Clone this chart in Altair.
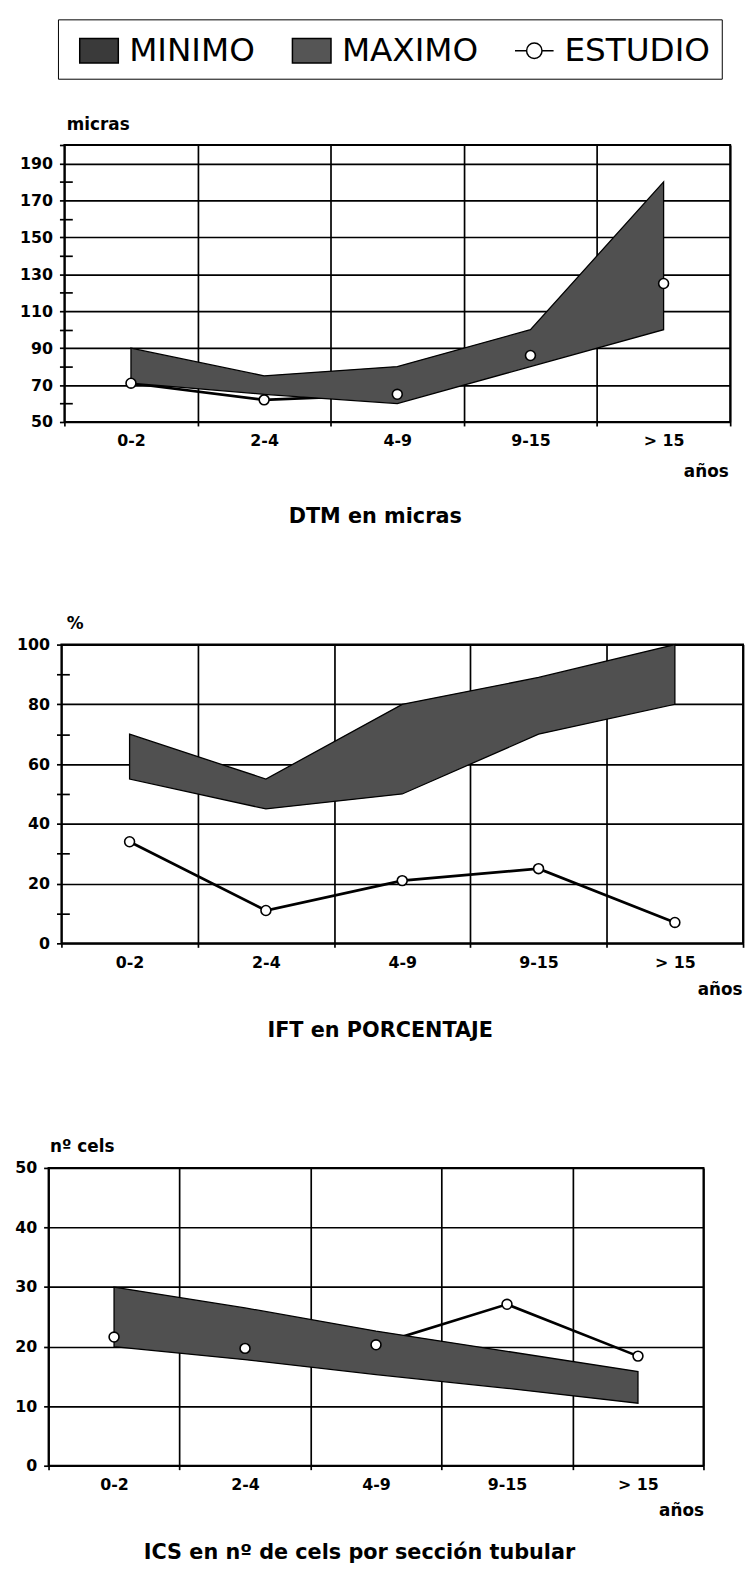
import altair as alt
import pandas as pd

cats = ["0-2", "2-4", "4-9", "9-15", "> 15"]

dtm_min = [71, 65, 60, 80, 100]
dtm_max = [90, 75, 80, 100, 180]
dtm_est = [71, 62, 65, 86, 125]

ift_min = [55, 45, 50, 70, 80]
ift_max = [70, 55, 80, 89, 100]
ift_est = [34, 11, 21, 25, 7]

ics_min = [20, 17.8, 15.3, 13, 10.5]
ics_max = [30, 26.5, 22.6, 19.2, 15.8]
ics_est = [21.6, 19.7, 20.3, 27.1, 18.4]

legend_labels = ["MINIMO", "MAXIMO", "ESTUDIO"]
legend_fills = ["#3a3a3a", "#555555", "white"]
legend_strokes = ["black", "black", "black"]
RECT = "M-1,-0.64L1,-0.64L1,0.64L-1,0.64Z"
EST = "M-1,0L-0.4,0M0.4,0L1,0M-0.4,0A0.4,0.4,0,1,1,0.4,0A0.4,0.4,0,1,1,-0.4,0Z"
legend_shapes = [RECT, RECT, EST]

BAND = "#505050"
FONT = "DejaVu Sans"


def frame(lo, hi, est):
    return pd.DataFrame({"cat": cats, "lo": lo, "hi": hi, "est": est})


def panel(df, W, H, ydom, left_vals, label_test, grid_test, inner_vals,
          ytitle, ytx, yty, xtx, xty, title, toff, legend=False):
    xaxis = alt.Axis(
        title="años", titleX=xtx, titleY=xty, titleAlign="right",
        titleBaseline="alphabetic", titleAngle=0,
        tickBand="extent", grid=True, gridColor="black", gridWidth=1.7,
        domain=False, ticks=True, tickSize=4, tickColor="black", tickWidth=1.7,
        labelPadding=7, labelAngle=0, labelFontSize=16,
    )
    x = alt.X("cat:N", sort=cats, bandPosition=0.5,
              scale=alt.Scale(type="band", domain=cats, paddingInner=0, paddingOuter=0),
              axis=xaxis)
    ys = alt.Scale(domain=ydom, nice=False, zero=False)
    left_axis = alt.Axis(
        values=left_vals,
        labelExpr=f"({label_test}) ? datum.label : ''",
        grid=True, gridColor="black", gridWidth=1.7,
        gridOpacity={"condition": {"test": grid_test, "value": 1}, "value": 0},
        domain=False, ticks=True, tickSize=5, tickColor="black", tickWidth=1.7,
        labelPadding=7, labelFontSize=16, labelOverlap=False,
        title=ytitle, titleAngle=0, titleX=ytx, titleY=yty,
        titleAlign="left", titleBaseline="alphabetic",
    )
    if inner_vals:
        inner_axis = alt.Axis(
            orient="right", offset=-W, values=inner_vals, labels=False,
            grid=False, domain=False, ticks=True, tickSize=8,
            tickColor="black", tickWidth=1.7, title=None,
        )
    else:
        inner_axis = None

    line = alt.Chart(df).mark_line(color="black", strokeWidth=2.7).encode(
        x=x, y=alt.Y("est:Q", scale=ys, axis=inner_axis)
    )
    area = alt.Chart(df).mark_area(fill=BAND, stroke="black", strokeWidth=1.3, opacity=1).encode(
        x=x, y=alt.Y("hi:Q", scale=ys, axis=left_axis), y2="lo:Q"
    )
    pts = alt.Chart(df).mark_point(filled=True, fill="white", stroke="black",
                                   strokeWidth=1.6, size=100, opacity=1).encode(
        x=x, y=alt.Y("est:Q", scale=ys, axis=None)
    )
    layers = [line, area, pts]
    if legend:
        leg = alt.Legend(
            title=None, orient="none", legendX=9.5, legendY=-127,
            direction="horizontal", strokeColor="black", padding=11,
            columnPadding=26, symbolOffset=10, labelFont=FONT, labelFontSize=33,
            labelFontWeight="normal", labelColor="black", labelOffset=10,
            symbolSize=1521, symbolStrokeColor="black", symbolStrokeWidth=1.5,
            symbolOpacity=1, labelBaseline="middle",
        )
        ldf = pd.DataFrame({"serie": legend_labels})
        lg = alt.Chart(ldf).mark_point(filled=True, strokeWidth=1.5).encode(
            fill=alt.Fill("serie:N", sort=legend_labels,
                          scale=alt.Scale(domain=legend_labels, range=legend_fills), legend=leg),
            shape=alt.Shape("serie:N", sort=legend_labels,
                            scale=alt.Scale(domain=legend_labels, range=legend_shapes), legend=leg),
            stroke=alt.Stroke("serie:N", sort=legend_labels,
                              scale=alt.Scale(domain=legend_labels, range=legend_strokes), legend=leg),
        ).transform_filter("datum.serie == 'ninguno'")
        layers.append(lg)
    ch = alt.layer(*layers).properties(
        width=W, height=H,
        title=alt.TitleParams(text=title, orient="bottom", offset=toff, font=FONT,
                              fontSize=21, fontWeight="bold", color="black",
                              anchor="middle", frame="bounds"),
    ).resolve_axis(y="independent")
    return ch


def spacer(w, h):
    return alt.Chart(pd.DataFrame({"s": [0]})).mark_point(opacity=0).properties(
        width=w, height=h, view=alt.ViewBackground(stroke="transparent")
    )


c1 = panel(frame(dtm_min, dtm_max, dtm_est), 673, 280, [50, 200],
           list(range(50, 201, 10)), "datum.value % 20 == 10", "datum.value % 20 == 10",
           list(range(60, 181, 20)), "micras", 2, -16, 671, 55,
           "DTM en micras", 27, legend=True)
c2 = panel(frame(ift_min, ift_max, ift_est), 689, 302, [0, 100],
           list(range(0, 101, 10)), "datum.value % 20 == 0", "datum.value % 20 == 0",
           [10, 30, 50, 70, 90], "%", 5, -16, 688, 52,
           "IFT en PORCENTAJE", 23, legend=False)
c3 = panel(frame(ics_min, ics_max, ics_est), 662, 301, [0, 50],
           list(range(0, 51, 10)), "true", "true",
           None, "nº cels", 1, -17, 662, 50,
           "ICS en nº de cels por sección tubular", 24, legend=False)

row1 = alt.hconcat(spacer(16, 1), c1, spacing=0, bounds="flush")
row2 = alt.hconcat(spacer(13, 1), c2, spacing=0, bounds="flush")

chart = alt.vconcat(
    row1, spacer(1, 505), row2, spacer(1, 529), c3,
    spacing=0, bounds="flush",
).properties(
    autosize=alt.AutoSizeParams(type="none"),
    padding={"left": 41, "top": 130, "right": 706, "bottom": 1437},
).configure_view(stroke="black", strokeWidth=2).configure_axis(
    labelFont=FONT, labelFontWeight="bold", labelColor="black",
    titleFont=FONT, titleFontWeight="bold", titleFontSize=17, titleColor="black",
)

chart.save("out.html", embed_options={"renderer": "svg", "actions": False})
